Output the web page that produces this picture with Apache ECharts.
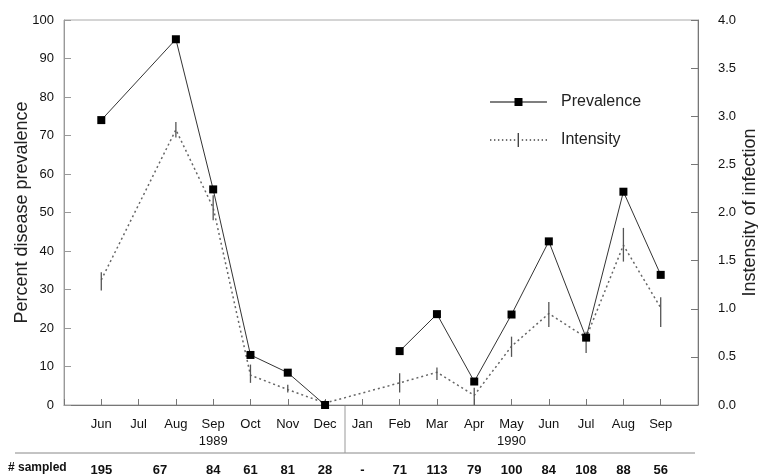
<!DOCTYPE html>
<html><head><meta charset="utf-8">
<script src="https://cdn.jsdelivr.net/npm/echarts@6/dist/echarts.min.js"></script>
<style>html,body{margin:0;padding:0;background:#fff}#c{width:758px;height:476px}</style>
</head><body><div id="c"></div>
<script>
// Months (first and last entries are empty padding slots)
var months = ['', 'Jun', 'Jul', 'Aug', 'Sep', 'Oct', 'Nov', 'Dec', 'Jan', 'Feb', 'Mar', 'Apr', 'May', 'Jun', 'Jul', 'Aug', 'Sep', ''];
var years = ['', '', '', '', '1989', '', '', '', '', '', '', '', '1990', '', '', '', '', ''];
var sampled = ['', '195', '', '67', '84', '61', '81', '28', '-', '71', '113', '79', '100', '84', '108', '88', '56', ''];
var prevalence = [null, 74, null, 95, 56, 13, 8.4, 0, null, 14, 23.6, 6.1, 23.5, 42.5, 17.5, 55.4, 33.8, null];
var intensity = [null, 1.30, null, 2.86, 2.05, 0.31, 0.16, 0.02, null, 0.23, 0.34, 0.10, 0.61, 0.95, 0.70, 1.66, 1.01, null];
var intensityLow = [null, 1.19, null, 2.78, 1.92, 0.23, 0.13, 0.0, null, 0.13, 0.26, 0.0, 0.50, 0.81, 0.54, 1.49, 0.81, null];
var intensityHigh = [null, 1.38, null, 2.94, 2.18, 0.42, 0.21, 0.05, null, 0.33, 0.39, 0.18, 0.71, 1.07, 0.76, 1.84, 1.12, null];

var FONT = 'Liberation Sans, Arial, Helvetica, sans-serif';
var janIdx = months.indexOf('Jan');
var prevA = prevalence.map(function (v, i) { return i < janIdx ? v : null; });
var prevB = prevalence.map(function (v, i) { return i > janIdx ? v : null; });
var errData = [];
intensityLow.forEach(function (lo, i) { if (lo !== null) errData.push([i, lo, intensityHigh[i]]); });
var xLabels = months.map(function (m, i) { return years[i] ? m + '\n' + years[i] : m; });

// legend icons drawn in a 57 x 14 box
var iconI = 'path://';
for (var x = 0; x < 57; x += 4) { if (x < 26 || x > 30) iconI += 'M' + x + ',6.3 h1.4 v1.4 h-1.4 Z '; }
iconI += 'M27.8,0 h1.4 v14 h-1.4 Z';
var iconP = 'path://M0,0 h0.01 v0.01 h-0.01 Z M0,6.5 h57 v1 h-57 Z M24.5,3 h8 v8 h-8 Z M57,14 h0.01 v0.01 h-0.01 Z';

var chart = echarts.init(document.getElementById('c'));
chart.setOption({
  animation: false,
  textStyle: { fontFamily: FONT },
  grid: { left: 64, right: 60, top: 20, bottom: 71, show: true, borderColor: '#aaa', borderWidth: 1, outerBoundsMode: 'none', containLabel: false },
  legend: {
    orient: 'vertical', left: 485, top: 89, itemWidth: 57, itemHeight: 14, itemGap: 22,
    data: [{ name: 'Prevalence', icon: iconP }, { name: 'Intensity', icon: iconI }],
    textStyle: { fontSize: 16, color: '#222', fontFamily: FONT, padding: [0, 0, 0, 9] }
  },
  xAxis: [{
    type: 'category', data: xLabels, boundaryGap: false,
    axisLine: { lineStyle: { color: '#777' } },
    axisTick: { inside: true, length: 6, lineStyle: { color: '#777' }, interval: 0 },
    axisLabel: { interval: 0, fontSize: 13, color: '#111', lineHeight: 17, margin: 11, fontFamily: FONT },
    splitLine: { show: false }
  }, {
    type: 'category', data: sampled, boundaryGap: false, position: 'bottom', offset: 53,
    axisLine: { show: false }, axisTick: { show: false },
    axisLabel: {
      interval: 0, fontSize: 13, fontWeight: 'bold', color: '#111', margin: 6, fontFamily: FONT,
      formatter: function (v) { return v === '67' ? '{s|67}' : v; },
      rich: { s: { fontSize: 13, fontWeight: 'bold', color: '#111', padding: [0, 32, 0, 0], fontFamily: FONT } }
    }
  }],
  yAxis: [{
    type: 'value', min: 0, max: 100, interval: 10,
    name: 'Percent disease prevalence', nameLocation: 'middle', nameGap: 33, nameMoveOverlap: false,
    nameTextStyle: { fontSize: 18, color: '#222', fontFamily: FONT },
    axisLine: { show: true, lineStyle: { color: '#999' } },
    axisTick: { show: true, inside: true, length: 7, lineStyle: { color: '#999' } },
    axisLabel: { fontSize: 13, color: '#111', margin: 10, fontFamily: FONT },
    splitLine: { show: false }
  }, {
    type: 'value', min: 0, max: 4, interval: 0.5, position: 'right',
    name: 'Instensity of infection', nameLocation: 'middle', nameGap: 43, nameRotate: 90, nameMoveOverlap: false,
    nameTextStyle: { fontSize: 18, color: '#222', fontFamily: FONT },
    axisLine: { show: true, lineStyle: { color: '#777' } },
    axisTick: { show: true, inside: true, length: 7, lineStyle: { color: '#777' } },
    axisLabel: { fontSize: 13, color: '#111', margin: 20, fontFamily: FONT, formatter: function (v) { return v.toFixed(1); } },
    splitLine: { show: false }
  }],
  series: [{
    name: 'Intensity', type: 'line', yAxisIndex: 1, data: intensity, connectNulls: true,
    showSymbol: false, symbol: 'none',
    lineStyle: { color: '#666', width: 1.5, type: [2, 3] },
    itemStyle: { color: '#444' }, z: 2
  }, {
    name: 'Intensity-err', type: 'custom', yAxisIndex: 1, data: errData, z: 3,
    renderItem: function (params, api) {
      var lo = api.coord([api.value(0), api.value(1)]);
      var hi = api.coord([api.value(0), api.value(2)]);
      return { type: 'line', shape: { x1: lo[0], y1: lo[1], x2: hi[0], y2: hi[1] }, style: { stroke: '#555', lineWidth: 1.3 } };
    }
  }, {
    name: 'Prevalence', type: 'line', data: prevA, connectNulls: true,
    symbol: 'rect', symbolSize: 8, lineStyle: { color: '#333', width: 1 }, itemStyle: { color: '#000' }, z: 4
  }, {
    name: 'Prevalence', type: 'line', data: prevB, connectNulls: false,
    symbol: 'rect', symbolSize: 8, lineStyle: { color: '#333', width: 1 }, itemStyle: { color: '#000' }, z: 4
  }],
  graphic: [
    { type: 'line', shape: { x1: 15, y1: 453, x2: 695, y2: 453 }, style: { stroke: '#888', lineWidth: 1 } },
    { type: 'line', shape: { x1: 345, y1: 405, x2: 345, y2: 453 }, style: { stroke: '#999', lineWidth: 1 } },
    { type: 'text', left: 8, top: 462, style: { text: '# sampled', font: 'bold 12px ' + FONT, fill: '#111' } }
  ]
});
</script></body></html>
